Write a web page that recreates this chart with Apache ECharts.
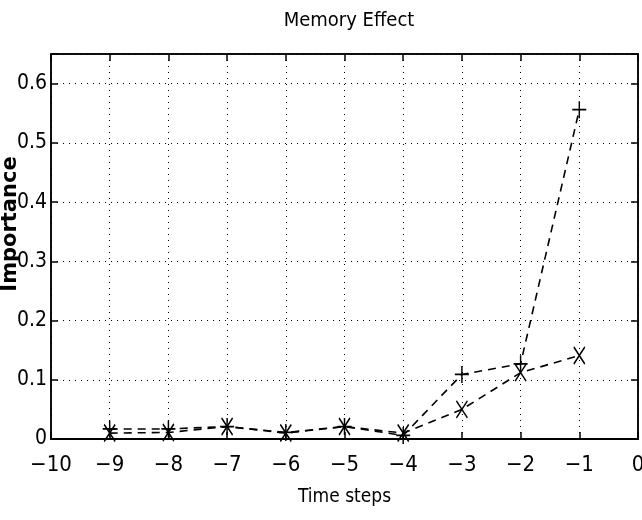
<!DOCTYPE html>
<html><head><meta charset="utf-8">
<script src="https://cdn.jsdelivr.net/npm/echarts@6/dist/echarts.min.js"></script>
<style>html,body{margin:0;padding:0;background:#fff}#c{width:642px;height:520px}</style>
</head><body><div id="c"></div>
<script>
const timeSteps = [-9, -8, -7, -6, -5, -4, -3, -2, -1];
const seriesPlus = [0.017, 0.017, 0.021, 0.011, 0.021, 0.006, 0.109, 0.127, 0.556];
const seriesCross = [0.010, 0.011, 0.021, 0.010, 0.021, 0.010, 0.050, 0.112, 0.141];
const xTicks = [-10, -9, -8, -7, -6, -5, -4, -3, -2, -1, 0];
const yTicks = [0, 0.1, 0.2, 0.3, 0.4, 0.5, 0.6];

const FONT = '"Liberation Sans Narrow", "DejaVu Sans Condensed", "Liberation Sans", Arial, sans-serif';
const chart = echarts.init(document.getElementById('c'));
const plusPath = 'path://M0,-10 L0,10 M-10,0 L10,0';
const crossPath = 'path://M-7,-10 L7,10 M7,-10 L-7,10';
const dotted = {color: '#000', width: 1, type: [1, 5]};
chart.setOption({
  animation: false,
  backgroundColor: '#fff',
  title: {text: 'Memory Effect', left: 344, textAlign: 'center', top: 6,
    textStyle: {fontFamily: FONT, fontSize: 20, fontWeight: 'normal', color: '#000'}},
  grid: {left: 51, right: 4, top: 54, bottom: 81, show: true, borderColor: '#000', borderWidth: 1.5,
    containLabel: false, outerBoundsMode: 'none'},
  xAxis: [{
    type: 'value', min: -10, max: 0, interval: 1,
    name: 'Time steps', nameLocation: 'middle', nameGap: 49, nameMoveOverlap: false,
    nameTextStyle: {fontFamily: FONT, fontSize: 19, color: '#000'},
    axisLine: {show: true, onZero: false, lineStyle: {color: '#000', width: 2}},
    axisTick: {show: true, inside: true, length: 7, lineStyle: {color: '#000', width: 1.5}},
    axisLabel: {fontFamily: FONT, fontSize: 22, color: '#000', margin: 15,
      formatter: v => (xTicks.includes(v) ? String(v).replace('-', '\u2212') : '')},
    splitLine: {show: true, lineStyle: dotted}
  }, {
    type: 'value', min: -10, max: 0, interval: 1, position: 'top',
    axisLine: {show: true, onZero: false, lineStyle: {color: '#000', width: 1.5}},
    axisTick: {show: true, inside: true, length: 7, lineStyle: {color: '#000', width: 1.5}},
    axisLabel: {show: false}, splitLine: {show: false}
  }],
  yAxis: [{
    type: 'value', min: 0, max: 0.65, interval: 0.1,
    name: 'Importance', nameLocation: 'middle', nameGap: 30, nameMoveOverlap: false,
    nameTextStyle: {fontFamily: '"DejaVu Sans", "Liberation Sans", Arial, sans-serif', fontSize: 21,
      fontWeight: 'bold', color: '#000', padding: [0, 0, 0, 45]},
    axisLine: {show: true, onZero: false, lineStyle: {color: '#000', width: 1.5}},
    axisTick: {show: true, inside: true, length: 7, lineStyle: {color: '#000', width: 1.5}},
    axisLabel: {fontFamily: FONT, fontSize: 21, color: '#000', margin: 4,
      formatter: v => { const r = Math.round(v * 10) / 10; return yTicks.includes(r) && Math.abs(v - r) < 1e-9 ? String(r) : ''; }},
    splitLine: {show: true, lineStyle: dotted}
  }, {
    type: 'value', min: 0, max: 0.65, interval: 0.1, position: 'right',
    axisLine: {show: true, onZero: false, lineStyle: {color: '#000', width: 1.5}},
    axisTick: {show: true, inside: true, length: 7, lineStyle: {color: '#000', width: 1.5}},
    axisLabel: {show: false}, splitLine: {show: false}
  }],
  series: [{
    type: 'line', data: timeSteps.map((t, i) => [t, seriesPlus[i]]),
    symbol: plusPath, symbolSize: [14, 17],
    lineStyle: {color: '#000', width: 1.6, type: [8, 6]},
    itemStyle: {color: 'none', borderColor: '#000', borderWidth: 1.6}
  }, {
    type: 'line', data: timeSteps.map((t, i) => [t, seriesCross[i]]),
    symbol: crossPath, symbolSize: [11, 17],
    lineStyle: {color: '#000', width: 1.6, type: [8, 6]},
    itemStyle: {color: 'none', borderColor: '#000', borderWidth: 1.6}
  }]
});
</script></body></html>
